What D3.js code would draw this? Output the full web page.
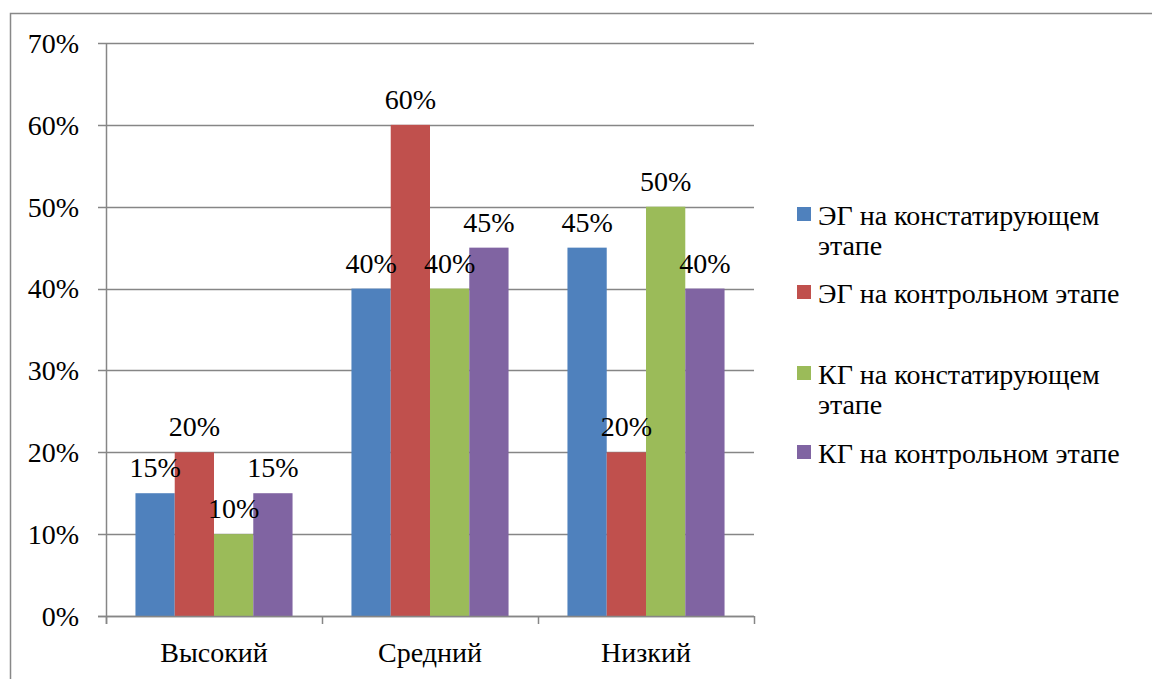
<!DOCTYPE html>
<html><head><meta charset="utf-8">
<script src="https://cdn.jsdelivr.net/npm/d3@7"></script>
<style>body{margin:0;background:#fff}svg{display:block}</style>
</head><body><svg id="c" width="1152" height="679"></svg>
<script>
const categories = ["Высокий", "Средний", "Низкий"];
const seriesNames = [["ЭГ на констатирующем", "этапе"], ["ЭГ на контрольном этапе"], ["КГ на констатирующем", "этапе"], ["КГ на контрольном этапе"]];
const egStart = [0.15, 0.40, 0.45];
const egEnd = [0.20, 0.60, 0.20];
const kgStart = [0.10, 0.40, 0.50];
const kgEnd = [0.15, 0.45, 0.40];
const yTicks = [0, 0.1, 0.2, 0.3, 0.4, 0.5, 0.6, 0.7];
const colors = ["#4F81BD", "#C0504D", "#9BBB59", "#8064A2"];
const series = [egStart, egEnd, kgStart, kgEnd];

const svg = d3.select("#c");
const FS = 28;
const FF = "'Liberation Serif', 'Times New Roman', Times, 'DejaVu Serif', serif";
svg.attr("font-family", FF);
// frame
svg.append("path").attr("d", "M10.5,679 V13.5 H1152").attr("fill", "none").attr("stroke", "#888").attr("stroke-width", 1.5);

const x0 = d3.scaleBand().domain(categories).range([106, 754]).paddingInner(0).paddingOuter(0);
const y = d3.scaleLinear().domain([0, 0.7]).range([616, 43]);
const x1 = d3.scaleBand().domain(d3.range(4)).range([0, x0.bandwidth()]).paddingOuter(0.75).paddingInner(0);

// gridlines
svg.append("g").selectAll("line").data(yTicks).join("line")
  .attr("x1", 98).attr("x2", 754).attr("y1", d => Math.round(y(d)) + 0.5).attr("y2", d => Math.round(y(d)) + 0.5)
  .attr("stroke", "#868686").attr("stroke-width", 1.5);
// y labels
svg.append("g").selectAll("text").data(yTicks).join("text")
  .attr("x", 79).attr("y", d => y(d)).attr("dy", "0.35em").attr("text-anchor", "end")
  .attr("font-size", FS).text(d => d3.format(".0%")(d));

// bars
categories.forEach((c, ci) => {
  series.forEach((s, si) => {
    const bx = x0(c) + x1(si);
    svg.append("rect").attr("x", bx).attr("y", y(s[ci])).attr("width", x1.bandwidth()).attr("height", y(0) - y(s[ci])).attr("fill", colors[si]);
  });
});
// labels
categories.forEach((c, ci) => {
  series.forEach((s, si) => {
    const bx = x0(c) + x1(si) + x1.bandwidth() / 2;
    svg.append("text").attr("x", bx).attr("y", y(s[ci]) - 16).attr("text-anchor", "middle")
      .attr("font-size", FS).text(d3.format(".0%")(s[ci]));
  });
});

// axes lines
svg.append("line").attr("x1", 106.5).attr("x2", 106.5).attr("y1", 43).attr("y2", 624).attr("stroke", "#868686").attr("stroke-width", 1.5);
svg.append("line").attr("x1", 98).attr("x2", 754).attr("y1", 616.5).attr("y2", 616.5).attr("stroke", "#868686").attr("stroke-width", 1.5);
const catTicks = categories.map(c => x0(c)).concat([x0.range()[1]]);
svg.append("g").selectAll("line").data(catTicks).join("line")
  .attr("x1", d => d + 0.5).attr("x2", d => d + 0.5).attr("y1", 616).attr("y2", 624).attr("stroke", "#868686").attr("stroke-width", 1.5);
svg.append("g").selectAll("text").data(categories).join("text")
  .attr("x", d => x0(d) + x0.bandwidth() / 2).attr("y", 662).attr("text-anchor", "middle")
  .attr("font-size", FS).text(d => d);

// legend
const legY = [225, 303, 384, 463];
seriesNames.forEach((n, i) => {
  const g = svg.append("g");
  g.append("rect").attr("x", 797).attr("y", legY[i] - 18).attr("width", 14).attr("height", 14).attr("fill", colors[i]);
  n.forEach((t, j) => g.append("text").attr("x", 818).attr("y", legY[i] + j * 30)
    .attr("font-size", FS).text(t));
});
</script></body></html>
